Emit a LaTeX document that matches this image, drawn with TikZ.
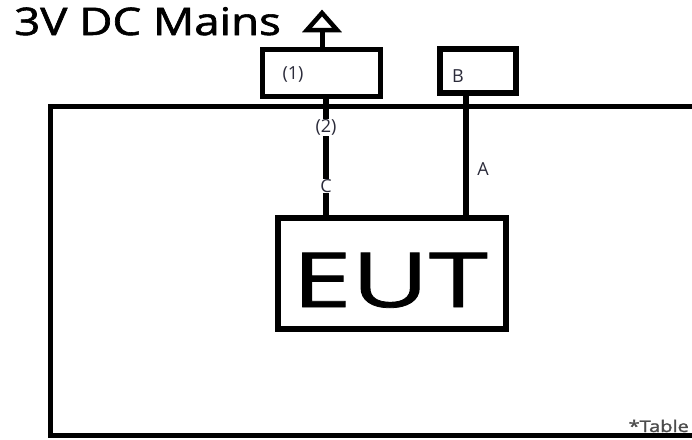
\documentclass[tikz,border=0pt]{standalone}
\usepackage{fontspec}
\setmainfont{Open Sans}
\usetikzlibrary{calc}
\definecolor{lbl}{HTML}{2B2B3A}
\tikzset{
  box/.style={draw=black, rectangle, inner sep=0pt, fill=white},
  cable/.style={line width=6pt, line cap=butt},
  clabel/.style={fill=white, inner sep=0.5pt, text=lbl, font=\fontsize{18}{18}\selectfont},
  tlabel/.style={text=lbl, font=\fontsize{18}{18}\selectfont},
}
\begin{document}
\begin{tikzpicture}[x=1pt,y=-1pt]
\useasboundingbox (0,0) rectangle (692,439);
\clip (0,0) rectangle (692,439);
% table
\draw[line width=5pt, line join=miter] (700,106) -- (50,106) -- (50,435.5) -- (700,435.5);
\node[font=\fontsize{16}{16}\selectfont\addfontfeature{FakeBold=1.5}, text=black!70, anchor=base east, inner sep=0pt] (tbl) at (689,432) {\scalebox{1.25}[1]{*Table}};
% title
\node[anchor=base west, inner sep=0pt, font=\fontsize{38}{38}\selectfont\addfontfeature{FakeBold=1.5}] (title) at (14,35) {\scalebox{1.2}[1]{3V DC Mains}};
% boxes
\node[box, line width=5pt, minimum width=118pt, minimum height=47pt] (p1) at (321,72.5) {};
\node[tlabel] (l1) at (293,74) {(1)};
\node[box, line width=6.5pt, minimum width=76pt, minimum height=44pt] (pb) at (478,71) {};
\node[tlabel] (lb) at (458,76) {B};
\node[box, line width=6pt, minimum width=228pt, minimum height=111pt] (eut) at (392,273.5) {};
\node[font=\fontsize{76}{76}\selectfont\addfontfeature{FakeBold=1}, inner sep=0pt, anchor=base] (eutl) at (390,307) {\scalebox{1.4}[1]{EUT}};
% arrow to mains
\coordinate (ax) at (322,0);
\coordinate (tipb) at (322,30);
\draw[line width=5pt] (p1.north -| ax) -- (tipb);
\draw[line width=4.5pt, line join=miter, fill=white] ($(tipb)+(-15,0)$) -- ($(tipb)+(0,-17)$) -- ($(tipb)+(15,0)$) -- cycle;
% cables
\coordinate (cx) at (326,0);
\coordinate (ax2) at (466,0);
\draw[cable] (p1.south -| cx) -- (eut.north -| cx)
  node[clabel, pos=0.25] (l2) {(2)}
  node[clabel, pos=0.75] (lc) {C};
\draw[cable] (pb.south -| ax2) -- (eut.north -| ax2);
\node[tlabel] (la) at (483,169) {A};
\end{tikzpicture}
\end{document}
